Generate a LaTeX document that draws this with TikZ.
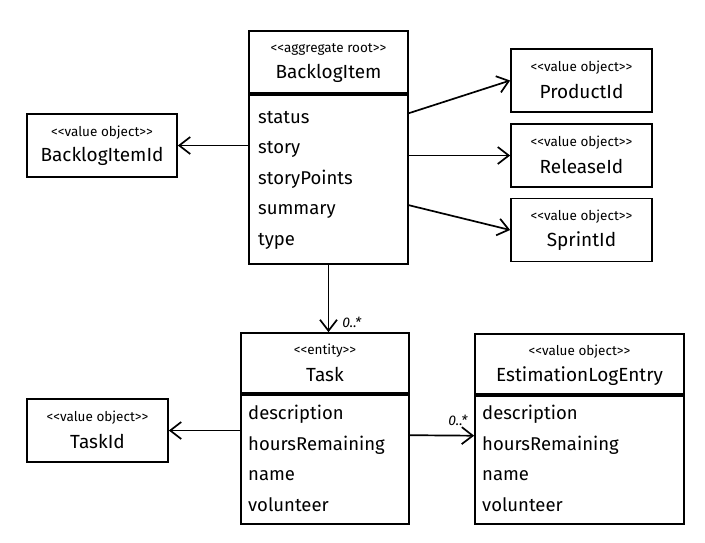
\documentclass[tikz,border=0pt]{standalone}
\usepackage{fontspec}
\setmainfont{Fira Sans}
\usepackage{tikz}
\usetikzlibrary{positioning,arrows.meta}

\tikzset{
  box/.style={draw, line width=1.7pt, inner sep=0pt},
  stereo/.style={font=\fontsize{13.5}{15}\selectfont},
  cname/.style={font=\fontsize{19}{22}\selectfont},
  attr/.style={anchor=west, inner sep=0pt, text height=13pt, text depth=4pt, font=\fontsize{18.5}{22}\selectfont},
  assoc/.style={line width=1.7pt, -{Straight Barb[length=11pt,width=17pt,line width=1.7pt]}},
  mult/.style={font=\itshape\fontsize{14}{16}\selectfont, inner sep=1pt}
}
\newcommand{\st}[1]{<\kern0pt<#1>\kern0pt>}

\begin{document}
\begin{tikzpicture}[x=1pt, y=-1pt]
  \useasboundingbox (0,0) rectangle (705,542);

  % aggregate
  \node [box, minimum width=159, minimum height=62] (bihead) at (328.5,62) {};
  \node [box, minimum width=159, minimum height=169, anchor=north] (bibody) at (bihead.south) {};
  \node [stereo] (bister) at ([yshift=13]bihead.center) {\st{aggregate root}};
  \node [cname] (biname) at ([yshift=-11]bihead.center) {BacklogItem};
  \foreach \a [count=\i] in {status,story,storyPoints,summary,type}
    \node [attr] (biattr\i) at (258, 88+30.5*\i) {\a};

  % value objects
  \node [box, minimum width=150, minimum height=63] (biid) at (102,145.5) {};
  \node [stereo] at ([yshift=13]biid.center) {\st{value object}};
  \node [cname] at ([yshift=-11]biid.center) {BacklogItemId};

  \node [box, minimum width=141, minimum height=63] (pid) at (581.5,80.5) {};
  \node [stereo] at ([yshift=13]pid.center) {\st{value object}};
  \node [cname] at ([yshift=-11]pid.center) {ProductId};

  \node [box, minimum width=141, minimum height=63] (rid) at (581.5,155.5) {};
  \node [stereo] at ([yshift=13]rid.center) {\st{value object}};
  \node [cname] at ([yshift=-11]rid.center) {ReleaseId};

  \node [box, minimum width=141, minimum height=63] (sid) at (581.5,230) {};
  \node [stereo] at ([yshift=13]sid.center) {\st{value object}};
  \node [cname] at ([yshift=-11]sid.center) {SprintId};

  \node [box, minimum width=141, minimum height=63] (tid) at (97.5,430.5) {};
  \node [stereo] at ([yshift=13]tid.center) {\st{value object}};
  \node [cname] at ([yshift=-11]tid.center) {TaskId};

  % entity
  \node [box, minimum width=168, minimum height=60] (taskhead) at (325,363) {};
  \node [box, minimum width=168, minimum height=129, anchor=north] (taskbody) at (taskhead.south) {};
  \node [stereo] at ([yshift=12]taskhead.center) {\st{entity}};
  \node [cname] at ([yshift=-11]taskhead.center) {Task};
  \foreach \a [count=\i] in {description,hoursRemaining,name,volunteer}
    \node [attr] (taskattr\i) at (248, 384.5+30.5*\i) {\a};

  % log entry
  \node [box, minimum width=209, minimum height=60] (esthead) at (579.5,364) {};
  \node [box, minimum width=209, minimum height=128, anchor=north] (estbody) at (esthead.south) {};
  \node [stereo] at ([yshift=12]esthead.center) {\st{value object}};
  \node [cname] at ([yshift=-12]esthead.center) {EstimationLogEntry};
  \foreach \a [count=\i] in {description,hoursRemaining,name,volunteer}
    \node [attr] (estattr\i) at (482, 384.5+30.5*\i) {\a};

  % associations
  \draw [assoc] (bibody.west |- biid.east) -- (biid.east);
  \draw [assoc] ([yshift=66]bibody.east) -- (pid.west);
  \draw [assoc] (bibody.east |- rid.west) -- (rid.west);
  \draw [assoc] ([yshift=-26]bibody.east) -- (sid.west);
  \draw [assoc] (bibody.south) -- (bibody.south |- taskhead.north)
    node [mult, pos=1, anchor=south west, xshift=12pt, yshift=3pt] {0..*};
  \draw [assoc] (taskbody.west |- tid.east) -- (tid.east);
  \draw [assoc] ([yshift=24]taskbody.east) -- ([yshift=24]estbody.west)
    node [mult, pos=1, anchor=south east, xshift=-5pt, yshift=8pt] {0..*};
\end{tikzpicture}
\end{document}
